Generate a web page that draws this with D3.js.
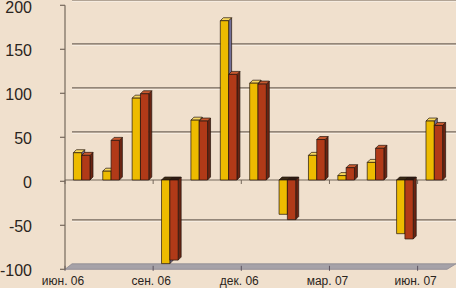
<!DOCTYPE html>
<html><head><meta charset="utf-8">
<script src="https://cdn.jsdelivr.net/npm/d3@7"></script>
<style>
html,body{margin:0;padding:0;background:#F0E0CD;}
svg{display:block;}
text{font-family:"Liberation Sans",Arial,sans-serif;fill:#2a2420;}
</style></head>
<body>
<svg id="c" width="456" height="288"></svg>
<script>
const categories = ["июн. 06","июл. 06","авг. 06","сен. 06","окт. 06","ноя. 06","дек. 06","янв. 07","фев. 07","мар. 07","апр. 07","май. 07","июн. 07"];
const tickLabels = ["июн. 06","сен. 06","дек. 06","мар. 07","июн. 07"];
const series1 = [31, 10, 93, -95, 68, 181, 110, -39, 28, 5, 20, -61, 67];
const series2 = [28, 45, 98, -91, 67, 120, 109, -45, 46, 14, 36, -67, 62];
const yTicks = [-100, -50, 0, 50, 100, 150, 200];

const svg = d3.select("#c");
svg.append("rect").attr("width",456).attr("height",288).attr("fill","#F0E0CD");

const x = d3.scaleBand().domain(categories).range([65, 447]).paddingInner(0).paddingOuter(0);
const y = d3.scaleLinear().domain([-100, 200]).range([269.3, 5.3]);

const backDx = 7, backDy = -5.5;
const planeDx = 2, planeDy = -1.3;
const gridCol = "#75685c";

// back wall gridlines
const g = svg.append("g");
yTicks.filter(v => v !== 0 && v !== -100).forEach(v => {
  const yy = y(v) + backDy;
  g.append("line").attr("x1", 65 + backDx).attr("x2", 456).attr("y1", yy + 1.6).attr("y2", yy + 1.6)
    .attr("stroke", "#F7EDE2").attr("stroke-width", 1);
  g.append("line").attr("x1", 65 + backDx).attr("x2", 456).attr("y1", yy).attr("y2", yy)
    .attr("stroke", gridCol).attr("stroke-width", 1.2);
});

// floor
const yf = y(-100);
svg.append("polygon")
  .attr("points", [[65, yf], [447, yf], [456, yf + backDy], [65 + backDx, yf + backDy]].map(p => p.join(",")).join(" "))
  .attr("fill", "#A6A2A8").attr("stroke", "#8a8690").attr("stroke-width", 0.8);

// floor ticks
tickLabels.forEach(l => {
  const xx = x(l);
  svg.append("line").attr("x1", xx).attr("x2", xx).attr("y1", yf - 3.5).attr("y2", yf + 1.5)
    .attr("stroke", "#5d5460").attr("stroke-width", 1);
});

// y axis
const yAxis = svg.append("g");
yAxis.append("line").attr("x1", 65).attr("x2", 65).attr("y1", y(200)).attr("y2", y(-100))
  .attr("stroke", gridCol).attr("stroke-width", 1.2);
yTicks.forEach(v => {
  yAxis.append("line").attr("x1", 60).attr("x2", 65).attr("y1", y(v)).attr("y2", y(v))
    .attr("stroke", gridCol).attr("stroke-width", 1.2);
  yAxis.append("text").attr("x", 32).attr("y", Math.max(y(v) + 6.3, 13)).attr("text-anchor", "end")
    .attr("font-size", 16).text(v);
});

// zero line
const y0 = y(0) + planeDy;
svg.append("line").attr("x1", 65).attr("x2", 447).attr("y1", y0).attr("y2", y0)
  .attr("stroke", gridCol).attr("stroke-width", 1.2);
tickLabels.forEach(l => {
  const xx = x(l);
  svg.append("line").attr("x1", xx).attr("x2", xx).attr("y1", y0).attr("y2", y0 + 4)
    .attr("stroke", gridCol).attr("stroke-width", 1);
});

// bars
const bw = x.bandwidth() * 0.283;
const dd = 3;
const styles = [
  {front: "#EDBB00", top: "#F7D860", side: "#72709a", negTop: "#3a2a14"},
  {front: "#B13A18", top: "#C85A30", side: "#6a2412", negTop: "#2e1a12"}
];
const bars = svg.append("g");
const pts = a => a.map(p => p.join(",")).join(" ");
categories.forEach((c, i) => {
  [series1[i], series2[i]].forEach((v, s) => {
    const st = styles[s];
    const x0 = x(c) + (x.bandwidth() - 2 * bw) / 2 + planeDx + s * bw;
    const x1 = x0 + bw;
    const yv = y(v) + planeDy;
    const yt = Math.min(yv, y0), yb = Math.max(yv, y0);
    const grp = bars.append("g").attr("stroke", "#24160e").attr("stroke-width", 0.7).attr("stroke-linejoin", "round");
    grp.append("polygon").attr("points", pts([[x1, yt], [x1 + dd, yt - dd], [x1 + dd, yb - dd], [x1, yb]])).attr("fill", st.side);
    grp.append("polygon").attr("points", pts([[x0, yt], [x0 + dd, yt - dd], [x1 + dd, yt - dd], [x1, yt]]))
      .attr("fill", v >= 0 ? st.top : st.negTop);
    grp.append("rect").attr("x", x0).attr("y", yt).attr("width", bw).attr("height", yb - yt).attr("fill", st.front);
  });
});

// x labels
tickLabels.forEach(l => {
  svg.append("text").attr("x", x(l) - 2).attr("y", 284.5).attr("text-anchor", "middle")
    .attr("font-size", 12).text(l);
});
</script>
</body></html>
